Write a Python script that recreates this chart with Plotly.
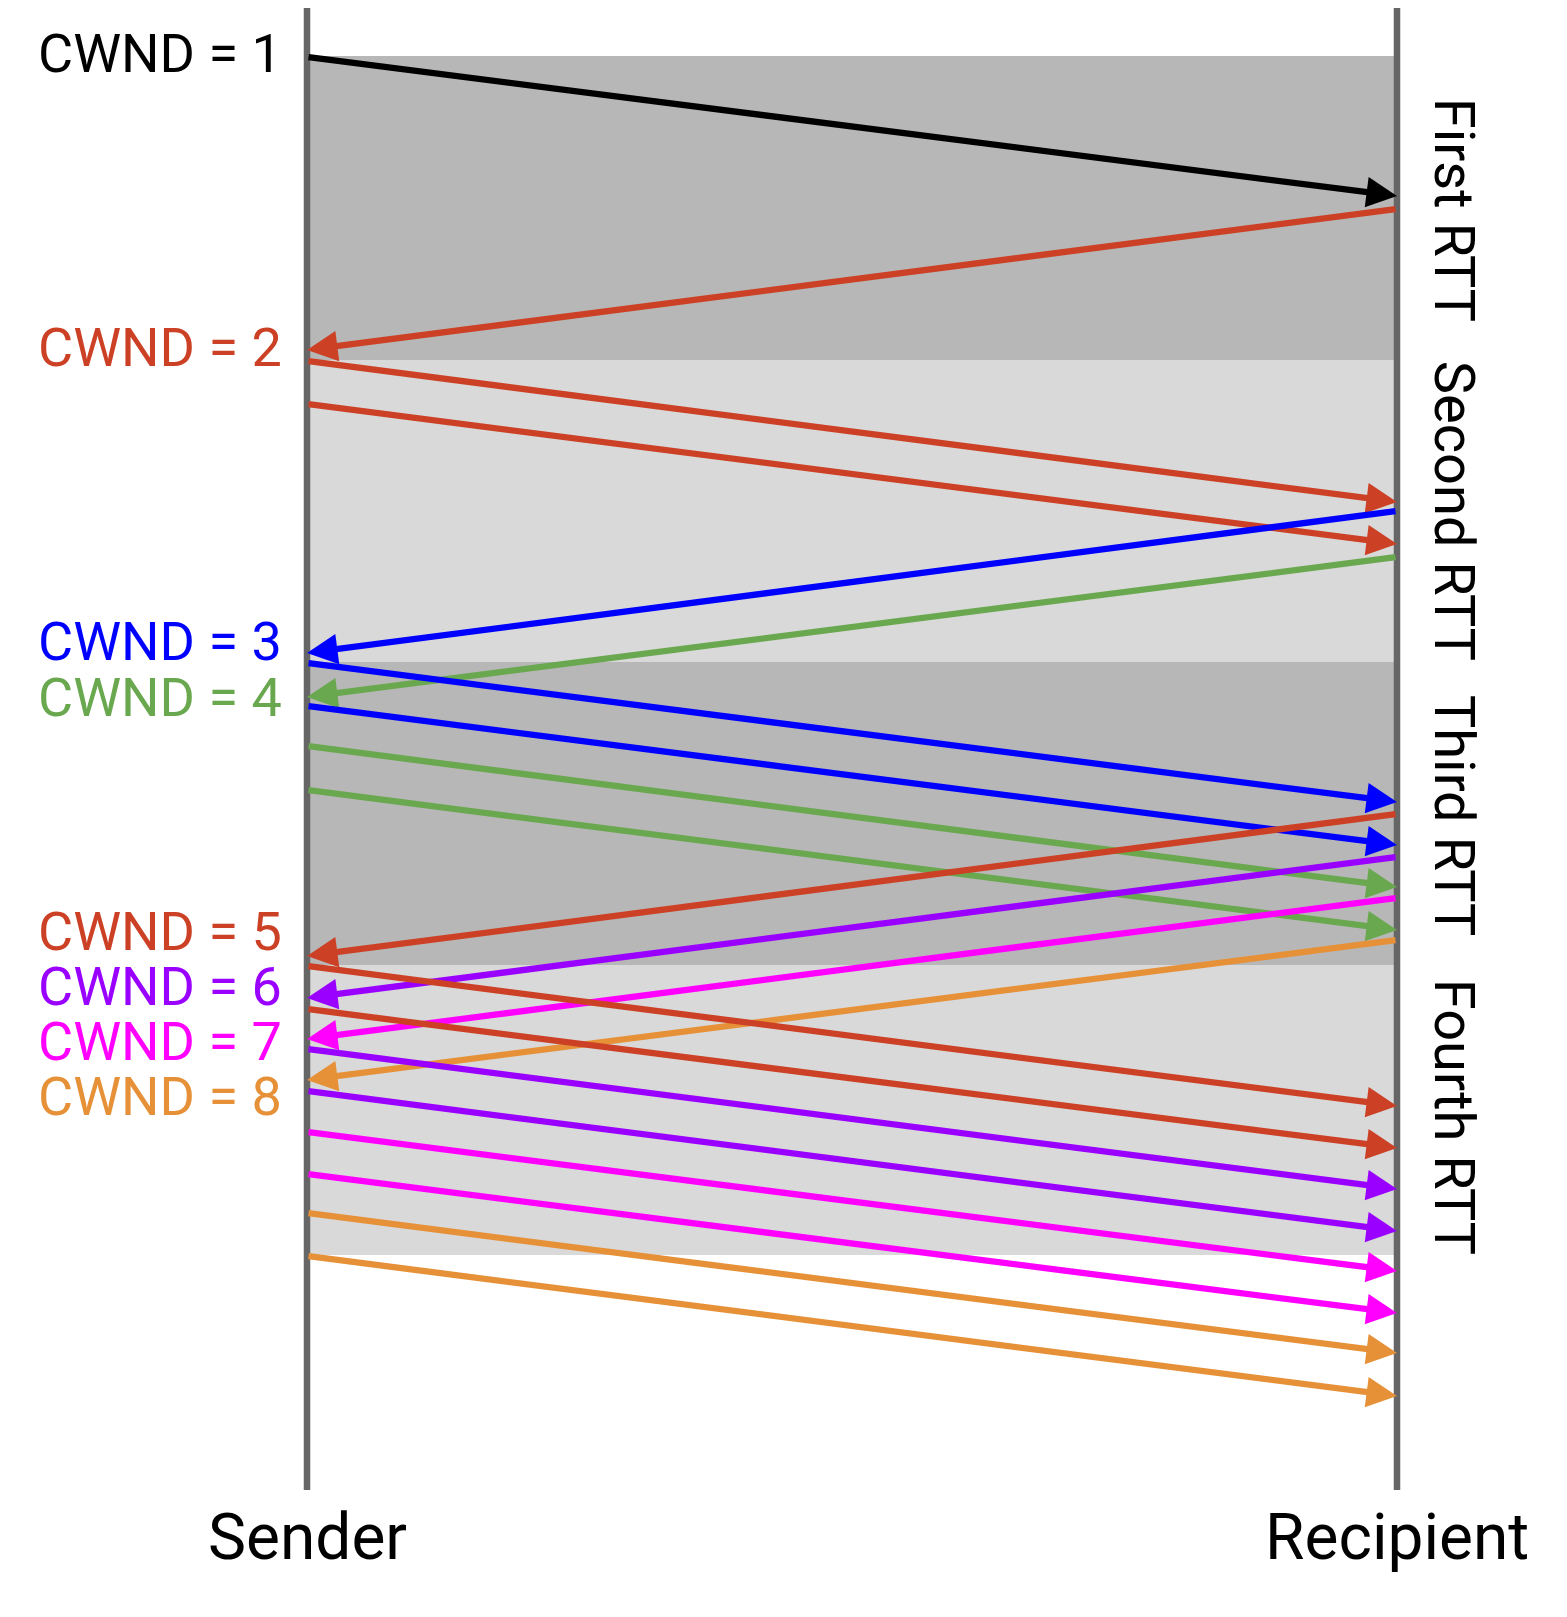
import plotly.graph_objects as go

# ---- data ----
rtt_names = ["First RTT", "Second RTT", "Third RTT", "Fourth RTT"]
rtt_bounds = [56, 360, 662, 965, 1255]          # time at band edges
rtt_label_t = [210, 511, 815, 1117]

cwnd_labels = ["CWND = 1", "CWND = 2", "CWND = 3", "CWND = 4",
               "CWND = 5", "CWND = 6", "CWND = 7", "CWND = 8"]
cwnd_t = [53, 347, 641, 697, 931, 986, 1041, 1096]

msg_dir = ["data", "ack", "data", "data", "ack", "ack", "data", "data", "data", "data",
           "ack", "ack", "ack", "ack", "data", "data", "data", "data", "data", "data", "data", "data"]
msg_send = [57, 209, 361, 404, 511, 557, 663, 706, 746, 790,
            814, 857, 898, 940, 966, 1009, 1049, 1091, 1132, 1174, 1213, 1256]
msg_recv = [196, 350, 502, 544, 653, 697, 802, 845, 887, 930,
            956, 998, 1039, 1080, 1106, 1148, 1189, 1231, 1271, 1313, 1353, 1396]
msg_group = ["k", "r", "r", "r", "b", "g", "b", "b", "g", "g",
             "r", "p", "m", "o", "r", "r", "p", "p", "m", "m", "o", "o"]
cwnd_group = ["k", "r", "b", "g", "r", "p", "m", "o"]

endpoints = ["Sender", "Recipient"]
endpoint_pos = [0, 1]

# ---- styles ----
COL = {"k": "#000000", "r": "#cc4125", "b": "#0000ff", "g": "#6aa84f",
       "p": "#9900ff", "m": "#ff00ff", "o": "#e69138"}
BAND = ["#b7b7b7", "#d9d9d9"]
LINE_GRAY = "#666666"
FONT = "Roboto"
W, H = 1567, 1617
OFF = 8  # page body margin
X0_PX, X1_PX = 307 - OFF, 1397 - OFF
scale = X1_PX - X0_PX
xr = [-X0_PX / scale, (W - X0_PX) / scale]
yr = [H + OFF, OFF]

fig = go.Figure()
shapes = []
for i in range(len(rtt_names)):
    shapes.append(dict(type="rect", xref="x", yref="y", x0=0, x1=1,
                       y0=rtt_bounds[i], y1=rtt_bounds[i + 1],
                       fillcolor=BAND[i % 2], line=dict(width=0), layer="below"))
for p in endpoint_pos:
    shapes.append(dict(type="line", xref="x", yref="y", x0=p, x1=p, y0=2, y1=1490,
                       line=dict(color=LINE_GRAY, width=6.5), layer="above"))

ann = []
for d, s, r, g in zip(msg_dir, msg_send, msg_recv, msg_group):
    if d == "data":
        tail_x, head_x = 0, 1
    else:
        tail_x, head_x = 1, 0
    ann.append(dict(x=head_x, y=r, ax=tail_x, ay=s, xref="x", yref="y",
                    axref="x", ayref="y", text="", showarrow=True,
                    arrowhead=2, arrowsize=0.97, arrowwidth=6.3,
                    arrowcolor=COL[g], standoff=0, startstandoff=0))

for lab, t, g in zip(cwnd_labels, cwnd_t, cwnd_group):
    ann.append(dict(x=-0.021, y=t, xref="x", yref="y", text=lab, showarrow=False,
                    xanchor="right", yanchor="middle",
                    font=dict(family=FONT, size=54, color=COL[g])))

for lab, t in zip(rtt_names, rtt_label_t):
    ann.append(dict(x=1.0525, y=t, xref="x", yref="y", text=lab, showarrow=False,
                    textangle=90, xanchor="center", yanchor="middle",
                    font=dict(family=FONT, size=56, color="#000000")))

for lab, p in zip(endpoints, endpoint_pos):
    ann.append(dict(x=p, y=1537, xref="x", yref="y", text=lab, showarrow=False,
                    xanchor="center", yanchor="middle",
                    font=dict(family=FONT, size=64, color="#000000")))

fig.update_layout(
    width=W, height=H, margin=dict(l=0, r=0, t=0, b=0),
    paper_bgcolor="white", plot_bgcolor="white",
    xaxis=dict(range=xr, visible=False, fixedrange=True, domain=[0, 1]),
    yaxis=dict(range=yr, visible=False, fixedrange=True, domain=[0, 1]),
    shapes=shapes, annotations=ann, showlegend=False,
)
fig.write_html("out.html")
